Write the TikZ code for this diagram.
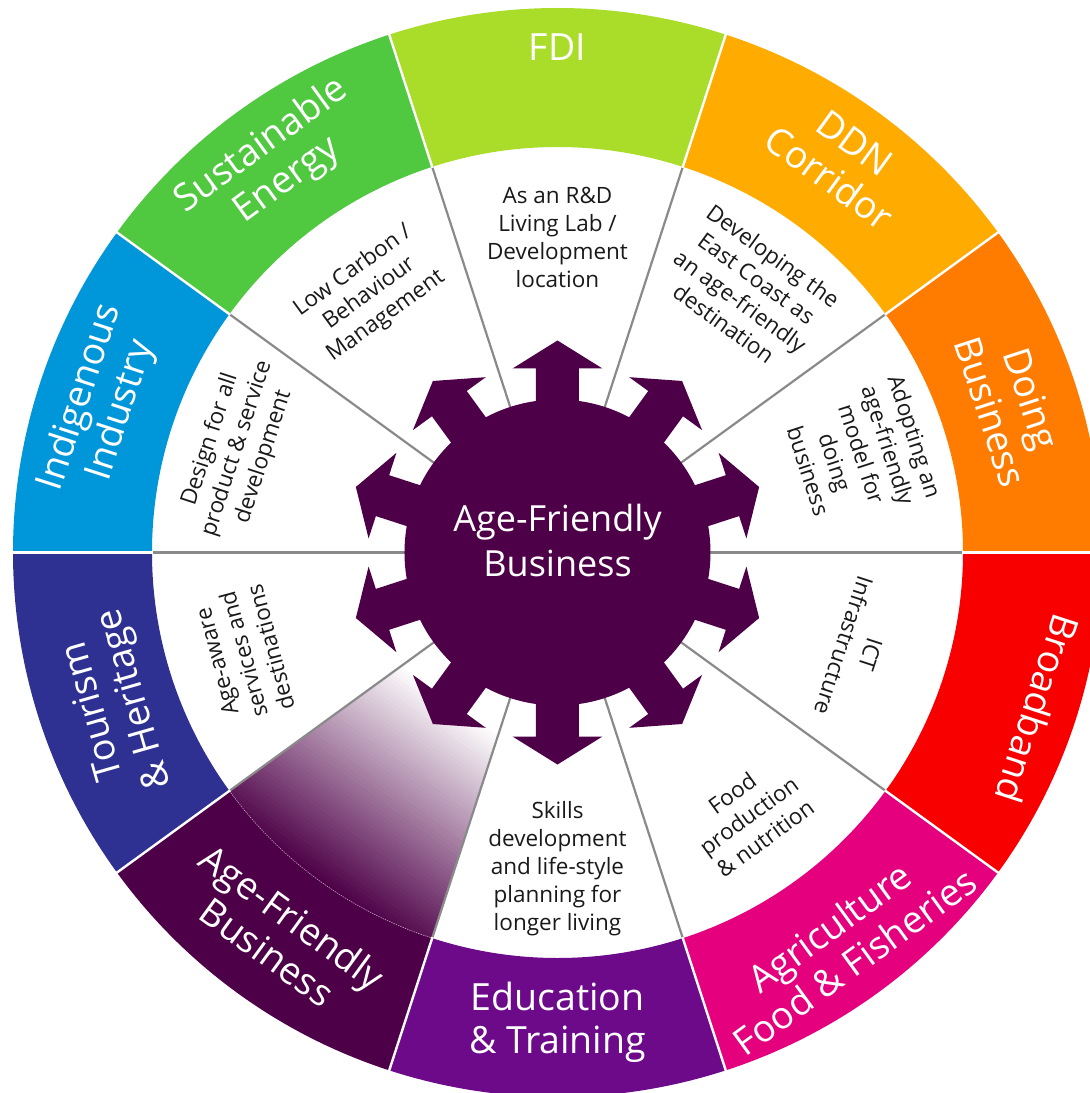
\documentclass[tikz,border=0pt]{standalone}
\usepackage{fontspec}
\setmainfont{Open Sans}
\definecolor{cFDI}{HTML}{AADC2A}
\definecolor{cDDN}{HTML}{FFAB00}
\definecolor{cDB}{HTML}{FF7C00}
\definecolor{cBB}{HTML}{F80000}
\definecolor{cAG}{HTML}{E5007D}
\definecolor{cED}{HTML}{6C0A8A}
\definecolor{cAF}{HTML}{4D0047}
\definecolor{cTH}{HTML}{2E3192}
\definecolor{cII}{HTML}{0096DA}
\definecolor{cSE}{HTML}{50C840}
\definecolor{grayline}{HTML}{8A8A8A}
\begin{document}
\begin{tikzpicture}[x=1pt,y=1pt,
  outerlbl/.style={text=white, font=\fontsize{37.5}{43}\selectfont, align=center, inner sep=0pt},
  innerlbl/.style={text=black!90, font=\fontsize{22.5}{28}\selectfont, align=center, inner sep=0pt},
  centerlbl/.style={text=white, font=\fontsize{36}{45}\selectfont, align=center, inner sep=0pt},
  sepgray/.style={grayline, line width=2.2pt},
  sepwhite/.style={white, line width=2.4pt},
  gearfill/.style={fill=cAF}]
\path[use as bounding box] (-557.5,-540.5) rectangle (532.5,552.5);
\clip (-557.5,-540.5) rectangle (532.5,552.5);
\def\Rin{405.5}
\def\Rout{544.5}
% outer coloured band
\foreach \a/\c in {90/cFDI,54/cDDN,18/cDB,-18/cBB,-54/cAG,-90/cED,-126/cAF,-162/cTH,162/cII,126/cSE}{
  \fill[\c] (\a-18:\Rin) arc[start angle=\a-18, end angle=\a+18, radius=\Rin]
     -- (\a+18:\Rout) arc[start angle=\a+18, end angle=\a-18, radius=\Rout] -- cycle;
}
% gradient sector
\begin{scope}
  \clip (0,0) -- (-144:\Rin) arc[start angle=-144, end angle=-108, radius=\Rin] -- cycle;
  \begin{scope}[rotate=-36]
    \foreach \i in {0,...,59}{
      \pgfmathsetmacro\yy{180+\i*3.9}
      \pgfmathsetmacro\pc{min(100,\i*1.75)}
      \fill[cAF!\pc!white] (-320,-\yy) rectangle (320,-\yy-4.6);
    }
  \end{scope}
\end{scope}
\draw[white, opacity=0.55, line width=0.7pt, dash pattern=on 1.2pt off 1.2pt] (-144:\Rin) arc[start angle=-144, end angle=-108, radius=\Rin];
% separators
\foreach \b in {-144,-108,-72,-36,0,36,72,108,144,180}{
  \draw[sepgray] (0,0) -- (\b:\Rin);
  \draw[sepwhite] (\b:\Rin-1) -- (\b:\Rout+8);
}
% central gear
\fill[gearfill] (0,0) circle[radius=153];
\foreach \a in {90,54,18,-18,-54,-90,-126,-162,162,126}{
  \fill[gearfill, rotate=\a] (140,-21.5) -- (184,-21.5) -- (184,-45) -- (212,0) -- (184,45) -- (184,21.5) -- (140,21.5) -- cycle;
}
\node[centerlbl] (hub) at (0,12) {Age-Friendly\\Business};
% outer labels
\node[outerlbl] (fdi) at (90:505) {FDI};
\node[outerlbl, rotate=-36] (ddn) at (54:484) {DDN\\Corridor};
\node[outerlbl, rotate=-72] (doing) at (18:477) {Doing\\Business};
\node[outerlbl, rotate=-108] (bband) at (-18:505) {Broadband};
\node[outerlbl, rotate=36] (agri) at (-54:484) {Agriculture\\Food \& Fisheries};
\node[outerlbl] (edu) at (-90:470) {Education\\\& Training};
\node[outerlbl, rotate=-36] (afb) at (-126:472) {Age-Friendly\\Business};
\node[outerlbl, rotate=106] (tour) at (-161:468) {Tourism\\\& Heritage};
\node[outerlbl, rotate=72] (indig) at (162:480) {Indigenous\\Industry};
\node[outerlbl, rotate=36] (sust) at (126:481) {Sustainable\\Energy};
% inner labels
\node[innerlbl] (t1) at (90:315) {As an R\&D\\Living Lab /\\Development\\location};
\node[innerlbl, rotate=-36] (t2) at (54:325) {Developing the\\East Coast as\\an age-friendly\\destination};
\node[innerlbl, rotate=-72] (t3) at (18:320) {Adopting an\\age-friendly\\model for\\doing\\business};
\node[innerlbl, rotate=-108] (t4) at (-18:315) {ICT\\Infrastructure};
\node[innerlbl, rotate=36] (t5) at (-54:325) {Food\\production\\\& nutrition};
\node[innerlbl] (t6) at (-90:316) {Skills\\development\\and life-style\\planning for\\longer living};
\node[innerlbl, rotate=105] (t7) at (-162:330) {Age-aware\\services and\\destinations};
\node[innerlbl, rotate=72] (t8) at (162:337) {Design for all\\product \& service\\development};
\node[innerlbl, rotate=36] (t9) at (126:320) {Low Carbon /\\Behaviour\\Management};
\end{tikzpicture}
\end{document}
